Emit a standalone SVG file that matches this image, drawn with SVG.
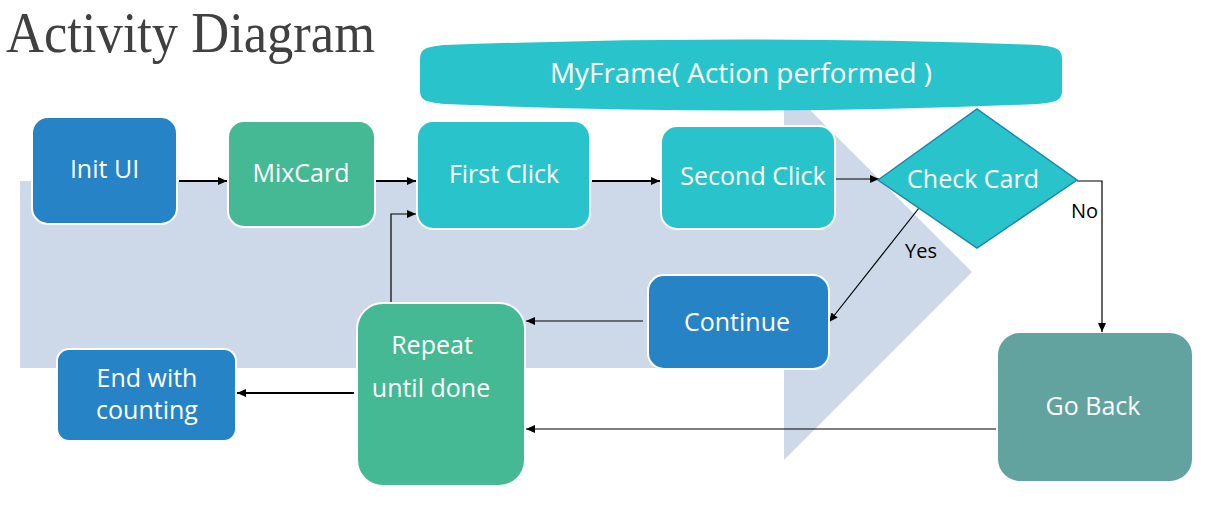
<svg xmlns="http://www.w3.org/2000/svg" width="1214" height="518" viewBox="0 0 1214 518">
  <style>
    .lbl { font-family: "Open Sans", "DejaVu Sans", sans-serif; font-size: 25px; fill: #ffffff; text-anchor: middle; }
    .small { font-family: "Open Sans", "DejaVu Sans", sans-serif; font-size: 20px; fill: #000000; }
    .box { stroke: #ffffff; stroke-width: 2; }
    .blue { fill: #2683C6; }
    .green { fill: #44B994; }
    .cyan { fill: #29C4CB; }
    .conn { fill: none; stroke: #000000; stroke-width: 1.2; }
    .thick { stroke-width: 2; }
  </style>
  <defs>
    <marker id="arr" markerUnits="userSpaceOnUse" markerWidth="10" markerHeight="10" viewBox="0 0 10 10" refX="9" refY="5" orient="auto">
      <path d="M0,1 L9,5 L0,9 Z" fill="#000000"/>
    </marker>
  </defs>
  <rect width="1214" height="518" fill="#ffffff"/>
  <text x="6" y="52" font-family="Liberation Serif, serif" font-size="57" fill="#404040" textLength="369" lengthAdjust="spacingAndGlyphs">Activity Diagram</text>
  <polygon points="20,181 784,181 784,84 972,272 784,460 784,368 20,368" fill="#CDD8E9"/>
  <g id="banner">
    <path d="M420,60 C420,48 426,47 445,45 Q741,34 1037,45 C1056,47 1062,48 1062,60 L1062,90 C1062,101 1056,102 1037,104 Q741,117 445,104 C426,102 420,101 420,90 Z" fill="#29C4CB"/>
    <text x="741" y="83" class="lbl" style="font-size:27px" textLength="382" lengthAdjust="spacingAndGlyphs">MyFrame( Action performed )</text>
  </g>
  <g id="connectors">
    <path class="conn thick" d="M179,181 H227" marker-end="url(#arr)"/>
    <path class="conn thick" d="M373,181 H416" marker-end="url(#arr)"/>
    <path class="conn thick" d="M592,181 H660" marker-end="url(#arr)"/>
    <path class="conn" d="M835,179 H879" marker-end="url(#arr)"/>
    <path class="conn" d="M1077,181 H1102 V332" marker-end="url(#arr)"/>
    <path class="conn" d="M919,208 L829,322" marker-end="url(#arr)"/>
    <path class="conn" d="M643,321 H526" marker-end="url(#arr)"/>
    <path class="conn" d="M996,429 H526" marker-end="url(#arr)"/>
    <path class="conn" d="M391,302 V214 H416" stroke-width="1.5" marker-end="url(#arr)"/>
    <path class="conn thick" d="M354,393 H237" marker-end="url(#arr)"/>
    <text x="1071" y="218" class="small">No</text>
    <text x="905" y="258" class="small">Yes</text>
  </g>
  <g id="init-ui">
    <rect class="box blue" x="32" y="117" width="145" height="107" rx="16"/>
    <text class="lbl" x="104.5" y="178">Init UI</text>
  </g>
  <g id="mixcard">
    <rect class="box green" x="228" y="121" width="147" height="106" rx="16"/>
    <text class="lbl" x="301" y="182">MixCard</text>
  </g>
  <g id="first-click">
    <rect class="box cyan" x="417" y="121" width="173" height="108" rx="16"/>
    <text class="lbl" x="504" y="183">First Click</text>
  </g>
  <g id="second-click">
    <rect class="box cyan" x="661" y="126" width="174" height="103" rx="16"/>
    <text class="lbl" x="753" y="185">Second Click</text>
  </g>
  <g id="check-card">
    <polygon points="878,180 977,109 1077,180 977,248" fill="#29C4CB" stroke="#1C86AC" stroke-width="1.5"/>
    <text class="lbl" x="973" y="188">Check Card</text>
  </g>
  <g id="continue">
    <rect class="box blue" x="648" y="275" width="181" height="94" rx="16"/>
    <text class="lbl" x="737" y="331">Continue</text>
  </g>
  <g id="go-back">
    <rect x="998" y="333" width="194" height="148" rx="22" fill="#62A39F"/>
    <text class="lbl" x="1093" y="415">Go Back</text>
  </g>
  <g id="repeat">
    <rect class="box green" x="357" y="303" width="168" height="183" rx="26"/>
    <text class="lbl" x="432" y="354">Repeat</text>
    <text class="lbl" x="431" y="397">until done</text>
  </g>
  <g id="end">
    <rect class="box blue" x="57" y="349" width="179" height="92" rx="12"/>
    <text class="lbl" x="147" y="387">End with</text>
    <text class="lbl" x="147" y="419">counting</text>
  </g>
</svg>
